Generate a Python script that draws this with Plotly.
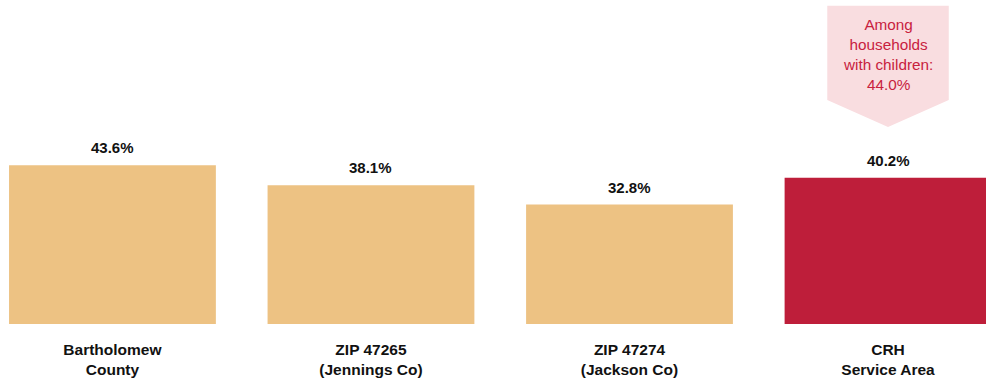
import plotly.graph_objects as go

categories = ["Bartholomew<br>County", "ZIP 47265<br>(Jennings Co)", "ZIP 47274<br>(Jackson Co)", "CRH<br>Service Area"]
values = [43.6, 38.1, 32.8, 40.2]
bar_colors = ["#EDC283", "#EDC283", "#EDC283", "#BE1E3A"]
callout_text = "Among<br>households<br>with children:<br>44.0%"

FONT = "Liberation Sans Narrow, Arial Narrow, Liberation Sans, Arial, sans-serif"
x = list(range(len(categories)))

fig = go.Figure()
fig.add_trace(go.Bar(x=x, y=values, marker=dict(color=bar_colors, line=dict(width=0)),
                     width=0.8, hoverinfo="skip"))

for xi, v in zip(x, values):
    fig.add_annotation(x=xi, y=v, text=f"{v:.1f}%", showarrow=False, yanchor="bottom",
                       yshift=7, font=dict(family=FONT, size=15, color="#111111", weight="bold"))

# callout arrow box above last bar
cx = x[-1]
hw = 0.235
fig.add_shape(type="path",
              path=f"M {cx-hw},87.4 L {cx+hw},87.4 L {cx+hw},61.5 L {cx},54.1 L {cx-hw},61.5 Z",
              xref="x", yref="y", fillcolor="#F9DDE0", line=dict(width=0), layer="below")
fig.add_annotation(x=cx, y=73.9, text=callout_text, showarrow=False, xref="x", yref="y",
                   font=dict(family="Liberation Sans, Arial, sans-serif", size=15.3, color="#C8213E"),
                   align="center")

fig.update_layout(
    width=986, height=384,
    margin=dict(l=0, r=0, t=0, b=60),
    paper_bgcolor="white", plot_bgcolor="white",
    showlegend=False,
    xaxis=dict(range=[-0.435, 3.379], tickvals=x, ticktext=categories, showgrid=False,
               zeroline=False, showline=False, ticks="", ticklabelstandoff=14,
               tickfont=dict(family=FONT, size=15.5, color="#111111", weight="bold")),
    yaxis=dict(range=[0, 89], visible=False, showgrid=False, zeroline=False),
)

fig.write_html("out.html", config={"displayModeBar": False},
               post_script="document.body.style.margin='0';document.body.style.overflow='hidden';")
